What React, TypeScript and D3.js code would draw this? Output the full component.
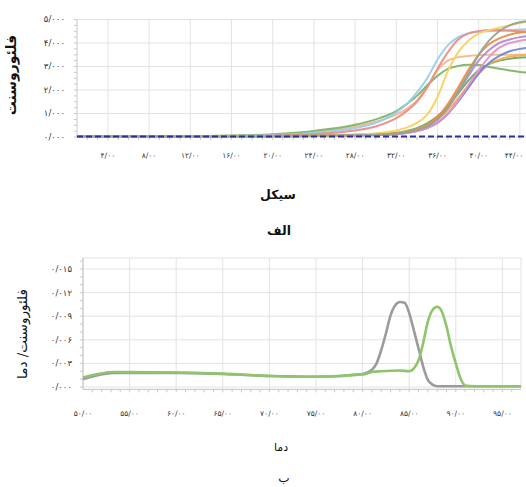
import React from "react";
import * as d3 from "d3";

// ---------- Top chart (amplification) ----------
const CYCLES = [1, 10, 16, 20, 24, 28, 30, 32, 33, 34, 35, 36, 37, 38, 39, 40, 41, 42, 43, 44, 45];
const greenEarly = [0.02, 0.03, 0.06, 0.12, 0.26, 0.52, 0.75, 1.1, 1.4, 1.75, 2.2, 2.6, 2.9, 3.02, 3.07, 3.06, 2.98, 2.9, 2.83, 2.77, 2.73];
const peach = [0.02, 0.02, 0.05, 0.1, 0.22, 0.45, 0.65, 0.95, 1.2, 1.55, 2.15, 2.85, 3.25, 3.4, 3.45, 3.48, 3.5, 3.5, 3.5, 3.5, 3.5];
const lightBlue = [0.02, 0.02, 0.04, 0.08, 0.18, 0.38, 0.6, 1.05, 1.4, 1.9, 2.5, 3.3, 3.9, 4.25, 4.42, 4.48, 4.5, 4.52, 4.55, 4.57, 4.6];
const salmon = [0.02, 0.02, 0.03, 0.06, 0.13, 0.28, 0.45, 0.8, 1.1, 1.5, 2.1, 2.9, 3.6, 4.15, 4.4, 4.5, 4.55, 4.55, 4.52, 4.5, 4.48];
const yellow = [0.01, 0.01, 0.02, 0.03, 0.05, 0.1, 0.16, 0.28, 0.4, 0.6, 0.95, 1.7, 2.8, 3.6, 4.1, 4.4, 4.55, 4.65, 4.75, 4.85, 4.92];
const grayGreen = [0.01, 0.01, 0.02, 0.03, 0.05, 0.08, 0.1, 0.15, 0.2, 0.3, 0.45, 0.75, 1.25, 1.95, 2.7, 3.5, 4.1, 4.5, 4.75, 4.88, 4.95];
const orangeRed = [0.01, 0.01, 0.02, 0.03, 0.05, 0.08, 0.1, 0.16, 0.22, 0.32, 0.5, 0.85, 1.4, 2.1, 2.85, 3.5, 3.95, 4.2, 4.35, 4.45, 4.48];
const purple = [0.01, 0.01, 0.02, 0.03, 0.05, 0.07, 0.09, 0.14, 0.2, 0.3, 0.45, 0.75, 1.25, 1.9, 2.6, 3.25, 3.7, 4.0, 4.15, 4.25, 4.3];
const magenta = [0.01, 0.01, 0.02, 0.03, 0.04, 0.06, 0.08, 0.12, 0.17, 0.25, 0.38, 0.62, 1.0, 1.55, 2.2, 2.85, 3.4, 3.8, 4.0, 4.1, 4.15];
const blue = [0.01, 0.01, 0.02, 0.03, 0.04, 0.06, 0.08, 0.12, 0.17, 0.25, 0.38, 0.6, 0.98, 1.5, 2.1, 2.7, 3.15, 3.45, 3.65, 3.75, 3.8];
const orange = [0.01, 0.01, 0.02, 0.03, 0.05, 0.08, 0.11, 0.15, 0.22, 0.32, 0.5, 0.75, 1.15, 1.65, 2.2, 2.7, 3.1, 3.3, 3.42, 3.48, 3.5];
const darkGreen = [0.01, 0.01, 0.02, 0.04, 0.06, 0.1, 0.13, 0.18, 0.26, 0.38, 0.58, 0.88, 1.3, 1.85, 2.4, 2.85, 3.1, 3.25, 3.33, 3.38, 3.4];
const thresholdValue = 0.02;

const topSeries = [
  { name: "peach", values: peach, color: "#f5b98c" },
  { name: "greenEarly", values: greenEarly, color: "#7db568" },
  { name: "lightBlue", values: lightBlue, color: "#92d0ee" },
  { name: "salmon", values: salmon, color: "#ee8c88" },
  { name: "darkGreen", values: darkGreen, color: "#6fa95c" },
  { name: "orange", values: orange, color: "#f5ad4c" },
  { name: "blue", values: blue, color: "#7585d6" },
  { name: "magenta", values: magenta, color: "#e193c6" },
  { name: "purple", values: purple, color: "#b48ad2" },
  { name: "orangeRed", values: orangeRed, color: "#f08a40" },
  { name: "yellow", values: yellow, color: "#f4d35e" },
  { name: "grayGreen", values: grayGreen, color: "#97a392" },
];

const topXTicks = [4, 8, 12, 16, 20, 24, 28, 32, 36, 40, 44];
const topYTicks = [0, 1, 2, 3, 4, 5];

// ---------- Bottom chart (melt curve) ----------
const grayTemps = [50, 53.3, 60, 65, 70, 75, 80, 81, 81.5, 82, 82.5, 83, 83.5, 84, 84.5, 85, 85.5, 86, 86.5, 87, 87.5, 88, 90, 97];
const grayDeriv = [0.001, 0.0018, 0.0018, 0.00165, 0.0014, 0.0013, 0.00165, 0.0022, 0.003, 0.0047, 0.0068, 0.0091, 0.0104, 0.0108, 0.0107, 0.0094, 0.0072, 0.0049, 0.0026, 0.0009, 0.0003, 0.0001, 0.0001, 0.0001];
const greenTemps = [50, 53.3, 60, 65, 70, 75, 80, 81, 82, 84, 85, 86, 86.5, 87, 87.5, 88, 88.5, 89, 89.5, 90, 90.5, 91, 92, 97];
const greenDeriv = [0.0012, 0.0019, 0.00185, 0.0017, 0.0014, 0.0013, 0.0016, 0.0019, 0.002, 0.0021, 0.002, 0.0034, 0.0056, 0.0083, 0.0098, 0.0102, 0.0096, 0.0077, 0.0051, 0.003, 0.0011, 0.0002, 0.0001, 0.0001];
const botXTicks = [50, 55, 60, 65, 70, 75, 80, 85, 90, 95];
const botYTicks = [0, 0.003, 0.006, 0.009, 0.012, 0.015];

const FA = "۰۱۲۳۴۵۶۷۸۹";
const toFa = (s: string) => s.replace(/\d/g, (d) => FA[+d]).replace(/\./g, "/");

const FONT = "DejaVu Sans, sans-serif";
const GRID = "#e3e3e3";
const AXIS = "#c8c8c8";

export default function App() {
  // top scales
  const xT = d3.scaleLinear().domain([1, 45]).range([77, 77 + 44 * 10.3]);
  const yT = d3.scaleLinear().domain([0, 5]).range([137, 19.5]);
  const topLine = d3
    .line<number>()
    .x((_, i) => xT(CYCLES[i]))
    .y((v) => yT(v))
    .curve(d3.curveMonotoneX);
  const tLeft = xT(1);
  const tRight = 526;
  const tTop = yT(5);
  const tBottom = yT(0);

  // bottom scales
  const xB = d3.scaleLinear().domain([50, 97]).range([83, 83 + 47 * 9.32]);
  const yB = d3.scaleLinear().domain([0, 0.015]).range([387, 387 - 5 * 23.6]);
  const bLeft = xB(50);
  const bRight = xB(97);
  const bTop = yB(0.0164);
  const bBottom = yB(-0.0003);
  const botLine = (temps: number[]) =>
    d3
      .line<number>()
      .x((_, i) => xB(temps[i]))
      .y((v) => yB(v))
      .curve(d3.curveMonotoneX);

  const topMinorX = d3.range(2, 46, 1);
  const topMinorY = d3.range(0, 5.01, 0.25);
  const botMinorX = d3.range(51, 97, 1);
  const botMinorY = d3.range(0, 0.0161, 0.001);

  return (
    <svg
      width={526}
      height={487}
      style={{ position: "absolute", left: 0, top: 0, background: "#fff" }}
      fontFamily={FONT}
    >
      <rect x={0} y={0} width={526} height={487} fill="#fff" />
      <defs>
        <clipPath id="topClip">
          <rect x={tLeft} y={tTop - 4} width={tRight - tLeft} height={tBottom - tTop + 6} />
        </clipPath>
      </defs>

      {/* ===== Top chart ===== */}
      {topYTicks.map((t) => (
        <line key={"tg" + t} x1={tLeft} x2={tRight} y1={yT(t)} y2={yT(t)} stroke={GRID} strokeWidth={1} />
      ))}
      {topXTicks.map((t) => (
        <line key={"tgx" + t} x1={xT(t)} x2={xT(t)} y1={tTop} y2={tBottom} stroke={GRID} strokeWidth={1} />
      ))}
      <line x1={tLeft} x2={tLeft} y1={tTop} y2={tBottom} stroke={AXIS} />
      {topMinorY.map((t, i) => (
        <line key={"tmy" + i} x1={tLeft - 3} x2={tLeft} y1={yT(t)} y2={yT(t)} stroke={AXIS} />
      ))}
      {topMinorX.map((t) => (
        <line key={"tmx" + t} x1={xT(t)} x2={xT(t)} y1={tBottom} y2={tBottom + 3} stroke={AXIS} />
      ))}
      <g clipPath="url(#topClip)">
        {topSeries.map((s) => (
          <path key={s.name} d={topLine(s.values) || ""} fill="none" stroke={s.color} strokeWidth={2} strokeOpacity={0.95} />
        ))}
      </g>
      <line
        x1={tLeft}
        x2={tRight}
        y1={yT(thresholdValue)}
        y2={yT(thresholdValue)}
        stroke="#2e3192"
        strokeWidth={2}
        strokeDasharray="6,3"
      />
      {topYTicks.map((t) => (
        <text key={"tyl" + t} x={65} y={yT(t)} dy="0.35em" textAnchor="end" fontSize={8.5} fill="#333" letterSpacing={0.6}>
          {toFa(d3.format(".3f")(t))}
        </text>
      ))}
      {topXTicks.map((t) => (
        <text
          key={"txl" + t}
          x={t === 44 ? 514 : xT(t)}
          y={155}
          dy="0.35em"
          textAnchor="middle"
          fontSize={7.5}
          fill="#333"
        >
          {toFa(d3.format(".2f")(t))}
        </text>
      ))}
      <text
        transform="translate(16,75) rotate(-90)"
        textAnchor="middle"
        fontSize={14}
        fontWeight="bold"
        fill="#111"
      >
        فلئوروسنت
      </text>
      <text x={278} y={195} dy="0.35em" textAnchor="middle" fontSize={12.5} fontWeight="bold" fill="#111">
        سیکل
      </text>
      <text x={279} y={231} dy="0.35em" textAnchor="middle" fontSize={12.5} fontWeight="bold" fill="#111">
        الف
      </text>

      {/* ===== Bottom chart ===== */}
      <rect x={bLeft} y={bTop} width={bRight - bLeft} height={bBottom - bTop} fill="none" stroke={GRID} />
      {botYTicks.map((t) => (
        <line key={"bg" + t} x1={bLeft} x2={bRight} y1={yB(t)} y2={yB(t)} stroke={GRID} />
      ))}
      {botXTicks.map((t) => (
        <line key={"bgx" + t} x1={xB(t)} x2={xB(t)} y1={bTop} y2={bBottom} stroke={GRID} />
      ))}
      <line x1={bLeft} x2={bLeft} y1={bTop} y2={bBottom} stroke={AXIS} />
      <line x1={bLeft} x2={bRight} y1={bBottom} y2={bBottom} stroke={AXIS} />
      {botMinorY.map((t, i) => (
        <line key={"bmy" + i} x1={bLeft - 3} x2={bLeft} y1={yB(t)} y2={yB(t)} stroke={AXIS} />
      ))}
      {botMinorX.map((t) => (
        <line key={"bmx" + t} x1={xB(t)} x2={xB(t)} y1={bBottom} y2={bBottom + 3} stroke={AXIS} />
      ))}
      <path d={botLine(grayTemps)(grayDeriv) || ""} fill="none" stroke="#9b9b9b" strokeWidth={2.6} />
      <path d={botLine(greenTemps)(greenDeriv) || ""} fill="none" stroke="#8ec46c" strokeWidth={2.6} />
      {botYTicks.map((t) => (
        <text key={"byl" + t} x={72} y={yB(t)} dy="0.35em" textAnchor="end" fontSize={8.5} fill="#333" letterSpacing={0.7}>
          {toFa(d3.format(".3f")(t))}
        </text>
      ))}
      {botXTicks.map((t) => (
        <text key={"bxl" + t} x={xB(t)} y={413} dy="0.35em" textAnchor="middle" fontSize={7.5} fill="#333">
          {toFa(d3.format(".2f")(t))}
        </text>
      ))}
      <text transform="translate(27,334) rotate(-90)" textAnchor="middle" fontSize={13.5} fill="#111">
        فلئوروسنت/ دما
      </text>
      <text x={281} y={447} dy="0.35em" textAnchor="middle" fontSize={11} fill="#111">
        دما
      </text>
      <text x={284} y={478} dy="0.35em" textAnchor="middle" fontSize={12} fill="#111">
        ب
      </text>
    </svg>
  );
}
